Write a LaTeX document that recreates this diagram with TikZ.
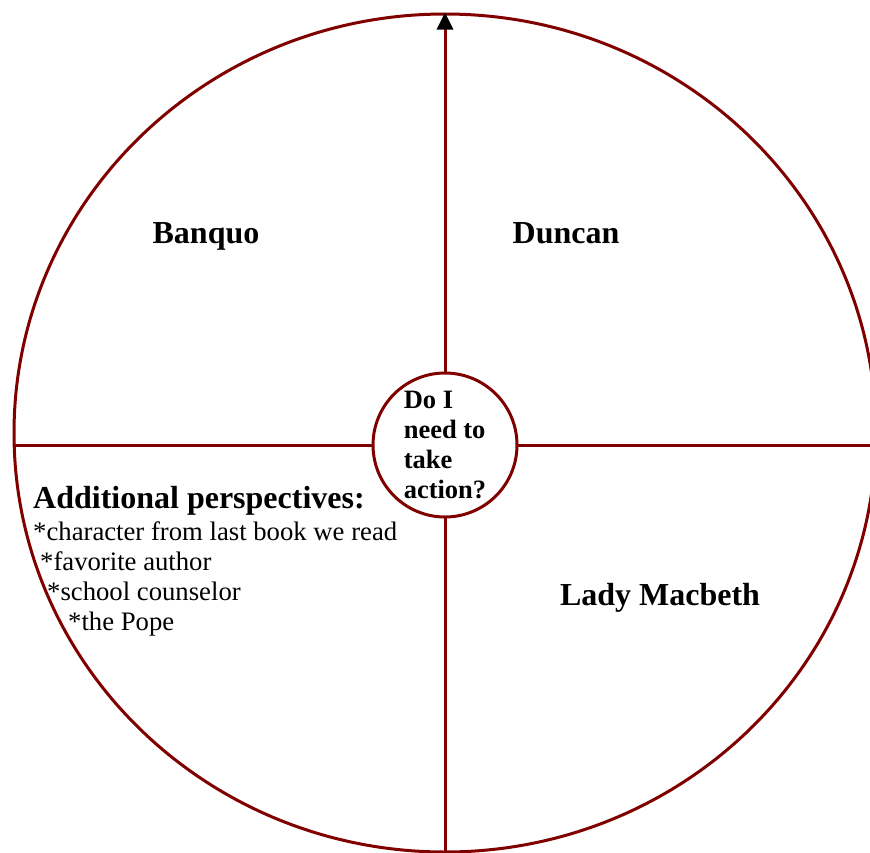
\documentclass[tikz,border=0pt]{standalone}
\usepackage{fontspec}
\setmainfont{Liberation Serif}
\usetikzlibrary{arrows.meta, positioning, shapes.geometric}
\definecolor{wheelred}{HTML}{800000}

\begin{document}
\begin{tikzpicture}[
  x=1pt, y=-1pt,
  rim/.style={draw=wheelred, line width=3pt, inner sep=0pt},
  axis/.style={wheelred, line width=3pt},
  who/.style={anchor=base, inner sep=0pt, font=\fontsize{32}{38}\selectfont\bfseries},
  item/.style={anchor=base west, inner sep=0pt, font=\fontsize{26.7}{30}\selectfont}
]
  \useasboundingbox (0,0) rectangle (870,852);
  \node[rim, ellipse, minimum width=862pt, minimum height=838pt] (wheel) at (445,433) {};
  \coordinate (mid) at (445,445);
  \draw[axis] (wheel.west |- mid) -- (wheel.east |- mid);
  \draw[axis, -{Triangle[color=black, length=17pt, width=16pt]}] (wheel.south) -- (wheel.north);
  \node[rim, circle, fill=white, minimum size=144pt, align=left,
        font=\fontsize{26.5}{30}\selectfont\bfseries] (hub) at (mid) {Do I\\need to\\take\\action?};

  \node[who] (banquo) at (206,243) {Banquo};
  \node[who] (duncan) at (566,243) {Duncan};
  \node[who] (lady) at (660,605) {Lady Macbeth};

  % other voices
  \node[who, anchor=base west] (extra) at (33,508) {Additional perspectives:};
  \foreach \i/\x/\t in {1/33/character from last book we read, 2/40/favorite author,
                        3/47/school counselor, 4/68/the Pope}
    \node[item] (p\i) at (\x,510+30*\i) {*\t};
\end{tikzpicture}
\end{document}
